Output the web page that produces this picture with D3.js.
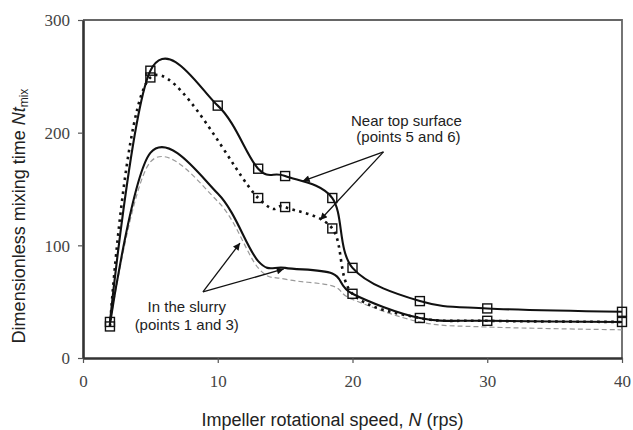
<!DOCTYPE html>
<html>
<head>
<meta charset="utf-8">
<script src="https://cdn.jsdelivr.net/npm/d3@7"></script>
<style>
  html, body { margin: 0; padding: 0; background: #fff; }
  svg { display: block; }
  .tick text { font-family: "Liberation Serif", "Times New Roman", serif; }
</style>
</head>
<body>
<svg id="chart" width="633" height="430"></svg>
<script>
// Impeller speed N (rps) at which the mixing time was measured
const speeds = [2, 5, 10, 13, 15, 18.5, 20, 25, 30, 40];
// Near top surface, point 5 (solid line with markers)
const topPoint5 = [32, 255, 224, 168, 161.5, 142, 80, 50.5, 44, 41];
// Near top surface, point 6 (dotted line with markers, not measured at 10 rps)
const speedsPoint6 = [2, 5, 13, 15, 18.5, 20, 25, 30, 40];
const topPoint6 = [28, 249, 142, 134, 115, 57, 35.5, 33, 32];
// In the slurry, point 1 (solid line)
const slurryPoint1 = [30, 182, 146, 86, 80, 75, 57, 35.5, 33, 32];
// In the slurry, point 3 (thin grey dashed line)
const slurryPoint3 = [30, 174, 139, 80, 70, 64, 52, 32, 27.5, 25];

const xTicks = [0, 10, 20, 30, 40];
const yTicks = [0, 100, 200, 300];

const xTitle = "Impeller rotational speed, ";
const yTitle = "Dimensionless mixing time ";

// annotation callouts (text lines and arrows in data units)
const topLabel = ["Near top surface", " (points 5 and 6)"];
const topLabelAt = [24.0, 205.5, 191.3];
const topArrowFrom = [22.3, 183];
const topArrowTo = [[16.3, 157], [17.6, 122.5]];
const slurryLabel = ["In the slurry", "(points 1 and 3)"];
const slurryLabelAt = [7.7, 41.2, 24.9];
const slurryArrowFrom = [8.9, 58.6];
const slurryArrowTo = [[11.65, 102], [14.9, 79]];

const svg = d3.select("#chart");
const x = d3.scaleLinear().domain([0, 40]).range([83, 622]);
const y = d3.scaleLinear().domain([0, 300]).range([358, 20]);

// arrowhead
svg.append("defs").append("marker")
  .attr("id", "head")
  .attr("viewBox", "0 0 10 10")
  .attr("refX", 10).attr("refY", 5)
  .attr("markerWidth", 9).attr("markerHeight", 7)
  .attr("markerUnits", "userSpaceOnUse")
  .attr("orient", "auto")
  .append("path").attr("d", "M0,0 L10,5 L0,10 Z").attr("fill", "#111");

// plot frame (top and right edges)
svg.append("path")
  .attr("d", `M${x(0)},${y(300)} H${x(40)} V${y(0)}`)
  .attr("fill", "none").attr("stroke", "#666").attr("stroke-width", 1.8);

// axes
const serif = "'Liberation Serif', 'Times New Roman', serif";
const sans = "'Liberation Sans', Arial, sans-serif";

const xAxis = svg.append("g").attr("transform", `translate(0,${y(0)})`)
  .call(d3.axisBottom(x).tickValues(xTicks).tickSize(5).tickPadding(12).tickSizeOuter(0));
const yAxis = svg.append("g").attr("transform", `translate(${x(0)},0)`)
  .call(d3.axisLeft(y).tickValues(yTicks).tickSize(5).tickPadding(8).tickSizeOuter(0));

[xAxis, yAxis].forEach(g => {
  g.attr("font-family", serif).attr("font-size", 17);
  g.select(".domain").attr("stroke", "#333").attr("stroke-width", 2.6);
  g.selectAll(".tick line").attr("stroke", "#555").attr("stroke-width", 1.2);
  g.selectAll(".tick text").style("font-family", serif).attr("font-size", 17).attr("fill", "#444");
});
xAxis.selectAll(".tick text").attr("dy", "0.72em");
yAxis.selectAll(".tick text").attr("dy", "0.34em");

// smoothed lines
const smooth = d3.curveCardinal.tension(0);
const lineOf = (xs, ys) => d3.line().curve(smooth).x((d, i) => x(xs[i])).y(d => y(d))(ys);

svg.append("path").attr("d", lineOf(speeds, slurryPoint3))
  .attr("fill", "none").attr("stroke", "#9a9a9a").attr("stroke-width", 1.2)
  .attr("stroke-dasharray", "5 3");
svg.append("path").attr("d", lineOf(speeds, slurryPoint1))
  .attr("fill", "none").attr("stroke", "#111").attr("stroke-width", 2.1);
svg.append("path").attr("d", lineOf(speedsPoint6, topPoint6))
  .attr("fill", "none").attr("stroke", "#111").attr("stroke-width", 2.6)
  .attr("stroke-dasharray", "2.6 4.4");
svg.append("path").attr("d", lineOf(speeds, topPoint5))
  .attr("fill", "none").attr("stroke", "#111").attr("stroke-width", 2.1);

// square markers
const sq = 9;
function squares(xs, ys) {
  svg.append("g").selectAll("rect").data(ys).join("rect")
    .attr("x", (d, i) => x(xs[i]) - sq / 2)
    .attr("y", d => y(d) - sq / 2)
    .attr("width", sq).attr("height", sq)
    .attr("fill", "none").attr("stroke", "#111").attr("stroke-width", 1.4);
}
squares(speeds, topPoint5);
squares(speedsPoint6, topPoint6);

// callouts
function callout(lines, at, from, tos) {
  const t = svg.append("g").attr("font-family", sans).attr("font-size", 15).attr("fill", "#222")
    .attr("text-anchor", "middle");
  lines.forEach((s, i) => {
    t.append("text").attr("x", x(at[0])).attr("y", y(at[i + 1])).attr("xml:space", "preserve").text(s);
  });
  tos.forEach(p => {
    svg.append("line")
      .attr("x1", x(from[0])).attr("y1", y(from[1]))
      .attr("x2", x(p[0])).attr("y2", y(p[1]))
      .attr("stroke", "#111").attr("stroke-width", 1.3)
      .attr("marker-end", "url(#head)");
  });
}
callout(topLabel, topLabelAt, topArrowFrom, topArrowTo);
callout(slurryLabel, slurryLabelAt, slurryArrowFrom, slurryArrowTo);

// axis titles
const xt = svg.append("text").attr("x", (x(0) + x(40)) / 2 - 20).attr("y", 426)
  .attr("text-anchor", "middle").attr("font-family", sans).attr("font-size", 18).attr("fill", "#222");
xt.append("tspan").text(xTitle);
xt.append("tspan").attr("font-style", "italic").text("N");
xt.append("tspan").text(" (rps)");

const yt = svg.append("text").attr("transform", "translate(25,216) rotate(-90)")
  .attr("text-anchor", "middle").attr("font-family", sans).attr("font-size", 18).attr("fill", "#222");
yt.append("tspan").text(yTitle);
yt.append("tspan").attr("font-style", "italic").text("Nt");
yt.append("tspan").attr("font-size", 12).attr("dy", 3).text("mix");
</script>
</body>
</html>
